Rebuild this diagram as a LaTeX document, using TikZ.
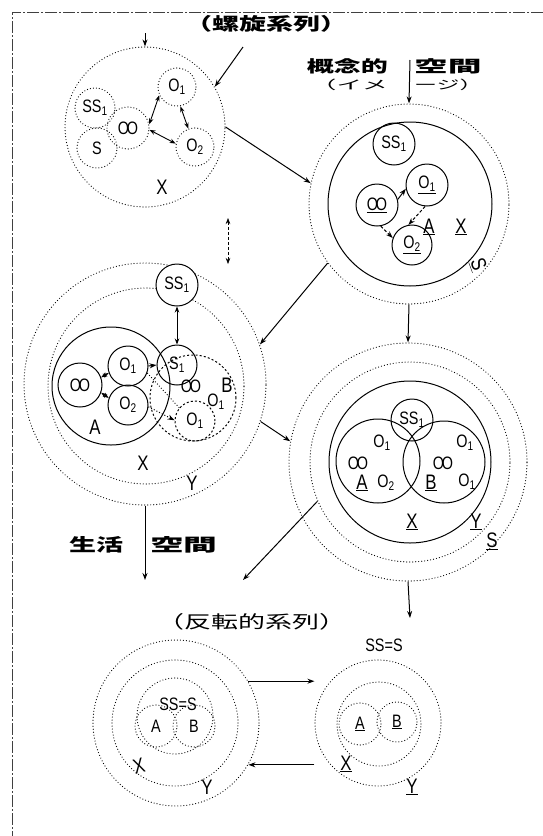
\documentclass[tikz,border=0pt]{standalone}
\usepackage{fontspec}
\usepackage{graphicx}
\setmainfont{Liberation Sans}[FakeStretch=0.8]
\newfontfamily\cjk{Noto Sans CJK JP}
\usetikzlibrary{arrows.meta}
\newcommand\oo{O\kern-0.12em O}
\newcommand\ob[1]{O\textsubscript{#1}}
\newcommand\jp[3]{\scalebox{#1}[#2]{\cjk #3}}

\begin{document}
\begin{tikzpicture}[
		x=1pt, y=-1pt,
		every node/.style={font=\fontsize{21}{21}\selectfont, inner sep=1pt},
		small/.style={font=\fontsize{18}{18}\selectfont},
		jfont/.style={font=\fontsize{27}{27}\selectfont, inner sep=0pt},
		dotring/.style={circle, draw, line width=1.2pt, line cap=round,
			dash pattern=on 0pt off 3pt, inner sep=0pt, small},
		dashring/.style={circle, draw, line width=1pt,
			dash pattern=on 2pt off 2.2pt, inner sep=0pt, small},
		ring/.style={circle, draw, line width=1pt, inner sep=0pt, small},
		arr/.style={-{Stealth[length=7pt,width=5pt]}, line width=1pt},
		dbl/.style={{Stealth[length=6pt,width=4.5pt]}-{Stealth[length=6pt,width=4.5pt]}, line width=0.9pt}
	]
	\useasboundingbox (0,0) rectangle (543,836);
	\draw[black!75, line width=0.8pt, dash pattern=on 12pt off 2pt on 2pt off 2pt]
		(543,12) -- (12,12) -- (12,836);

	\node[jfont] (rasen) at (266,24) {\jp{1}{0.65}{\bfseries （螺旋系列）}};
	\coordinate (rasenEnd) at (243,47);
	\coordinate (spTop) at (145,33);
	\node[dotring, minimum size=160pt] (spiral) at (145,127) {};
	\node[dotring, minimum size=40pt] (spSS) at (95,108) {SS\textsubscript{1}};
	\node[dotring, minimum size=40pt] (spS) at (97,148) {S};
	\node[dotring, minimum size=42pt] (spOO) at (128,128) {\oo};
	\node[dotring, minimum size=38pt] (spO1) at (177,87) {\ob1};
	\node[dotring, minimum size=38pt] (spO2) at (195,147) {\ob2};
	\node (spX) at (162,187) {X};
	\draw[arr] (spTop) -- (spiral.north);
	\draw[arr] (rasenEnd) -- (spiral.30);
	\draw[dbl] (spOO.10) -- (spO1.205);
	\draw[dbl] (spOO.-5) -- (spO2.170);
	\draw[dbl] (spO1.-80) -- (spO2.110);

	\node[jfont, anchor=east] (kGainen) at (388,66) {\jp{1}{0.6}{\bfseries 概念的}};
	\node[jfont, anchor=west] (kKuukan) at (414,66) {\jp{1.25}{0.6}{\bfseries 空間}};
	\node[jfont, anchor=east] (kImage1) at (388,85) {\jp{0.95}{0.45}{（イメ}};
	\node[jfont, anchor=west] (kImage2) at (414,85) {\jp{0.85}{0.45}{ージ）}};
	\coordinate (cTop) at (410,60);
	\node[dotring, minimum size=200pt] (concept) at (409,204) {};
	\node[ring, minimum size=164pt] (cX) at (410,204) {};
	\node[ring, minimum size=42pt] (cSS) at (394,144) {SS\textsubscript{1}};
	\node[ring, minimum size=42pt] (cO1) at (427,185) {\underline{\ob1}};
	\node[ring, minimum size=42pt] (cOO) at (377,205) {\underline{\oo}};
	\node[ring, minimum size=40pt] (cO2) at (412,245) {\underline{\ob2}};
	\node (cA) at (429,227) {\underline{A}};
	\node (cXl) at (461,227) {\underline{X}};
	\node[rotate=-70] (cS) at (478,265) {\underline{S}};
	\draw[arr] (cTop) -- (concept.north);
	\draw[arr] (cOO.15) -- (cO1.190);
	\draw[arr, densely dashed] (cOO.-80) -- (cO2.160);
	\draw[arr, densely dashed] (cO1.-95) -- (cO2.100);
	\draw[arr] (spiral.east) -- (concept.168);

	\coordinate (dTop) at (228,218);
	\coordinate (dBot) at (228,264);
	\draw[dbl, densely dashed, line width=0.6pt] (dTop) -- (dBot);

	\node[dotring, minimum size=242pt] (life) at (145,384) {};
	\node[dotring, minimum size=196pt] (lifeIn) at (146,386) {};
	\node[ring, minimum size=118pt] (lA) at (111,386) {};
	\node[ring, minimum size=44pt] (lOO) at (80,385) {\oo};
	\node[ring, minimum size=40pt] (lO1) at (128,366) {\ob1};
	\node[ring, minimum size=40pt] (lO2) at (128,405) {\ob2};
	\node[ring, minimum size=42pt, fill=white] (lSS) at (177,285) {SS\textsubscript{1}};
	\node[ring, minimum size=40pt] (lS1) at (177,365) {S\textsubscript{1}};
	\node[dashring, minimum size=86pt] (lB) at (193,398) {};
	\node[dashring, minimum size=40pt] (lsO) at (195,421) {\ob1};
	\node[small] (lBOO) at (191,386) {\oo};
	\node (lBl) at (227,385) {B};
	\node[small] (lBO1) at (216,402) {\ob1};
	\node (lAl) at (95,427) {A};
	\node (lXl) at (143,463) {X};
	\node (lYl) at (192,483) {Y};
	\draw[dbl] (lOO.20) -- (lO1.200);
	\draw[dbl] (lOO.-20) -- (lO2.160);
	\draw[dbl] (lSS.south) -- (lS1.north);
	\draw[arr] (lO1.east) -- (lS1.west);
	\draw[arr, dotted] (lO2.-5) -- (lsO.178);
	\draw[dotted, line width=0.9pt] (lO1.-20) -- (lsO.140);
	\draw[arr] (concept.216) -- (life.19);

	\node[dotring, minimum size=238pt] (union) at (408,462) {};
	\node[dotring, minimum size=200pt] (unionIn) at (410,462) {};
	\node[ring, minimum size=162pt] (uX) at (410,462) {};
	\node[ring, minimum size=84pt] (uA) at (378,461) {};
	\node[ring, minimum size=82pt] (uB) at (444,462) {};
	\node[ring, minimum size=42pt] (uSS) at (412,420) {SS\textsubscript{1}};
	\node[small] (uAO1) at (382,443) {\ob1};
	\node[small] (uAOO) at (358,463) {\oo};
	\node (uAl) at (362,483) {\underline{A}};
	\node[small] (uAO2) at (386,483) {\ob2};
	\node[small] (uBO1) at (465,443) {\ob1};
	\node[small] (uBOO) at (443,463) {\oo};
	\node (uBl) at (431,483) {\underline{B}};
	\node[small] (uBO1b) at (467,482) {\ob1};
	\node (uXl) at (412,522) {\underline{X}};
	\node (uYl) at (476,522) {\underline{Y}};
	\node (uSl) at (492,541) {\underline{S}};
	\draw[arr] (concept.south) -- (union.north);
	\draw[arr] (life.-18) -- (union.170);

	\node[jfont, anchor=east] (kSeikatsu) at (124,545) {\jp{1}{0.65}{\bfseries 生活}};
	\node[jfont, anchor=west] (kKuukan2) at (150,545) {\jp{1.25}{0.65}{\bfseries 空間}};
	\coordinate (lifeOut) at (145,580);
	\coordinate (unionDiag) at (243,580);
	\coordinate (unionOut) at (410,618);
	\draw[arr] (life.south) -- (lifeOut);
	\draw[arr] (unionIn.203) -- (unionDiag);
	\draw[arr] (union.south) -- (unionOut);

	\node[jfont] (hanten) at (252,622) {\jp{1}{0.65}{（反転的系列）}};
	\node[small] (rSS) at (384,645) {SS=S};

	\node[dotring, minimum size=166pt] (invL) at (176,723) {};
	\node[dotring, minimum size=126pt] (invLmid) at (175,723) {};
	\node[dotring, minimum size=76pt] (invLin) at (175,716) {};
	\node[dotring, minimum size=42pt] (invLA) at (156,726) {A};
	\node[dotring, minimum size=42pt] (invLB) at (194,726) {B};
	\node[small] (invLss) at (178,704) {SS=S};
	\node[rotate=15] (invLX) at (139,766) {X};
	\node (invLY) at (207,787) {Y};

	\node[dotring, minimum size=126pt] (invR) at (378,723) {};
	\node[dotring, minimum size=84pt] (invRin) at (379,724) {};
	\node[dotring, minimum size=42pt] (invRA) at (360,724) {\underline{A}};
	\node[dotring, minimum size=40pt] (invRB) at (397,722) {\underline{B}};
	\node (invRX) at (346,764) {\underline{X}};
	\node (invRY) at (412,787) {\underline{Y}};

	\draw[arr] (invL.30) -- (invL.30 -| invR.west);
	\draw[arr] (invL.-30 -| invR.west) -- (invL.-30);
\end{tikzpicture}
\end{document}
